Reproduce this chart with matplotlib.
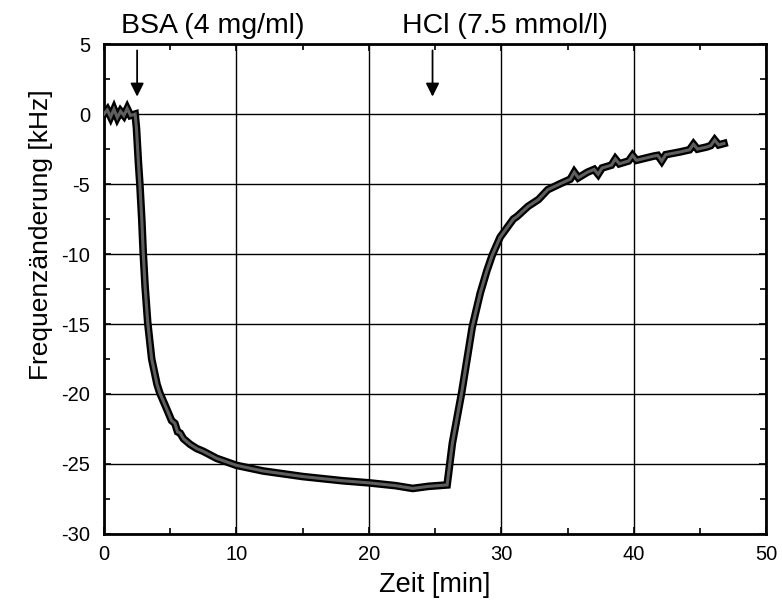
# frequenzaenderung_plot.py

import matplotlib.pyplot as plt
from matplotlib.ticker import MultipleLocator

plt.rcParams["font.family"] = ["Liberation Sans", "DejaVu Sans"]
plt.rcParams["axes.unicode_minus"] = False

# time in minutes and frequency change in kHz
zeit = [0.0, 0.25, 0.5, 0.75, 1.0, 1.25, 1.5, 1.75, 2.0, 2.35,
        2.45, 2.6, 2.7, 2.85, 2.96, 3.1, 3.3, 3.6, 4.0, 4.2, 4.7, 5.1,
        5.35, 5.55, 5.75, 6.0, 6.5, 7.0, 7.5, 8.5, 10.0, 12.0, 15.0,
        18.0, 20.0, 22.0, 23.3, 24.5, 25.9,
        26.3, 27.0, 27.8, 28.4, 28.9, 29.3, 29.9, 30.9, 31.2, 32.0, 32.8,
        33.5, 34.5, 35.2, 35.5, 35.8, 36.5, 37.0, 37.3, 37.6, 38.3, 38.6,
        38.9, 39.6, 39.9, 40.2, 41.5, 41.8, 42.1, 42.4, 43.5, 44.2, 44.5,
        44.8, 45.5, 45.8, 46.1, 46.4, 46.8]
frequenz = [0.0, 0.3, -0.2, 0.35, -0.25, 0.2, -0.1, 0.4, -0.1, 0.0,
            -1.0, -3.5, -4.9, -7.5, -9.9, -12.3, -14.9, -17.5, -19.3, -19.9,
            -21.0, -21.9, -22.1, -22.7, -22.8, -23.2, -23.6,
            -23.9, -24.1, -24.6, -25.1, -25.5, -25.9, -26.2, -26.35, -26.55,
            -26.75, -26.6, -26.5,
            -23.5, -19.9, -15.2, -12.8, -11.2, -10.1, -8.8, -7.5, -7.3, -6.6,
            -6.1, -5.4, -4.95, -4.65, -4.15, -4.55, -4.15, -3.95, -4.3, -3.85,
            -3.65, -3.2, -3.55, -3.35, -2.95, -3.3, -3.0, -2.95, -3.35, -2.9,
            -2.7, -2.55, -2.15, -2.5, -2.35, -2.25, -1.85, -2.2, -2.1]

ereignisse = ["BSA (4 mg/ml)", "HCl (7.5 mmol/l)"]
ereignis_zeit = [2.5, 24.8]
titel_zeit = [8.2, 30.3]

fig = plt.figure(figsize=(7.82, 6.13), dpi=100)
ax = fig.add_axes([0.133, 0.129, 0.847, 0.799])

ax.plot(zeit, frequenz, color="black", lw=5.5, zorder=3,
        solid_joinstyle="miter")
ax.plot(zeit, frequenz, color="#5e5e5e", lw=2.2, zorder=4,
        solid_joinstyle="miter")

# arrows and labels for the additions
for name, t_pfeil, t_text in zip(ereignisse, ereignis_zeit, titel_zeit):
    ax.annotate("", xy=(t_pfeil, 1.05), xytext=(t_pfeil, 4.75),
                arrowprops=dict(arrowstyle="-|>", color="black", lw=1.3,
                                mutation_scale=20, facecolor="#888888"))
    ax.text(t_text, 5.8, name, ha="center", va="baseline", fontsize=20.5)

ax.set_xlim(0, 50)
ax.set_ylim(-30, 5)
ax.xaxis.set_major_locator(MultipleLocator(10))
ax.xaxis.set_minor_locator(MultipleLocator(5))
ax.yaxis.set_major_locator(MultipleLocator(5))
ax.yaxis.set_minor_locator(MultipleLocator(2.5))
ax.tick_params(which="both", direction="in", top=True, right=True,
               labelsize=14.5, width=1.2)
ax.tick_params(which="major", length=5)
ax.tick_params(which="minor", length=4)
ax.tick_params(axis="x", pad=8)
ax.tick_params(axis="y", pad=10)
ax.grid(True, which="major", color="black", lw=1.0)
for spine in ax.spines.values():
    spine.set_linewidth(2)

ax.set_xlabel("Zeit [min]", fontsize=19.5, labelpad=6)
ax.set_ylabel("Frequenzänderung [kHz]", fontsize=19, labelpad=6, y=0.61)

fig.savefig("out.png", dpi=100)
